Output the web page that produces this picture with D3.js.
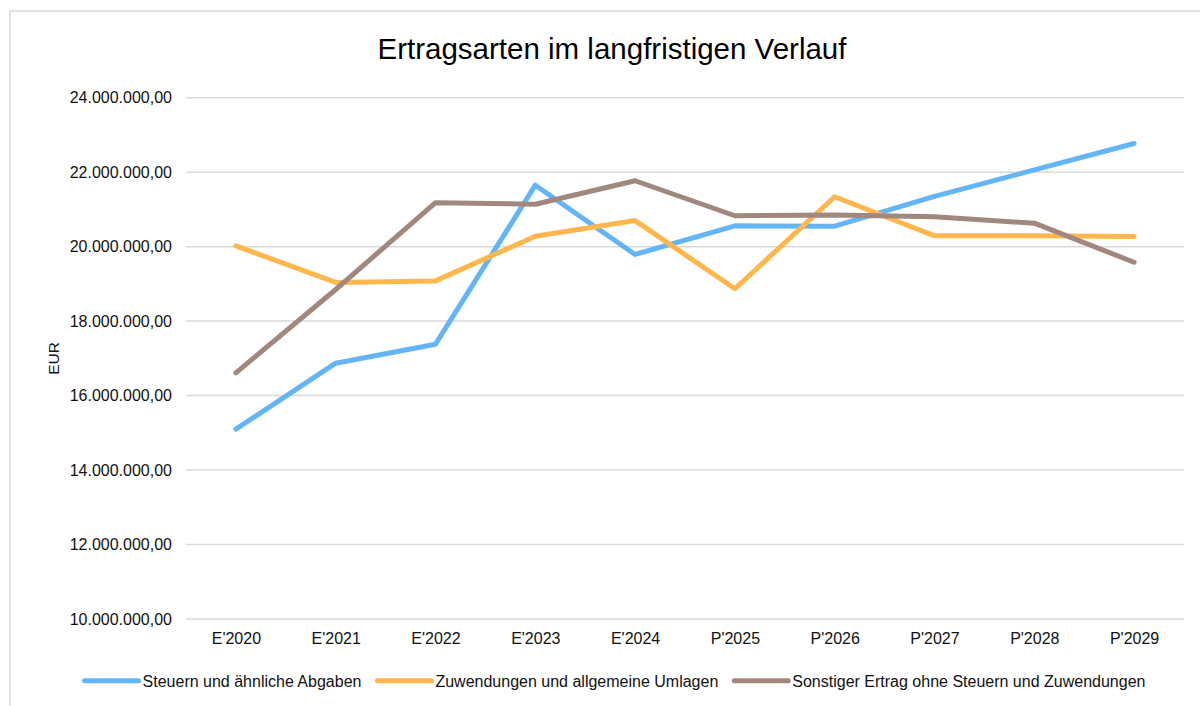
<!DOCTYPE html>
<html>
<head>
<meta charset="utf-8">
<script src="https://cdn.jsdelivr.net/npm/d3@7"></script>
<style>
  html, body { margin: 0; padding: 0; background: #fff; }
  svg { display: block; font-family: "Liberation Sans", Arial, sans-serif; }
</style>
</head>
<body>
<svg id="chart" width="1200" height="706"></svg>
<script>
const title = "Ertragsarten im langfristigen Verlauf";
const yAxisLabel = "EUR";
const categories = ["E'2020","E'2021","E'2022","E'2023","E'2024","P'2025","P'2026","P'2027","P'2028","P'2029"];
const seriesNames = [
  "Steuern und ähnliche Abgaben",
  "Zuwendungen und allgemeine Umlagen",
  "Sonstiger Ertrag ohne Steuern und Zuwendungen"
];
const steuern = [15100000,16870000,17380000,21650000,19790000,20560000,20550000,21350000,22060000,22770000];
const zuwendungen = [20020000,19040000,19080000,20280000,20700000,18870000,21340000,20290000,20290000,20270000];
const sonstiger = [16610000,18850000,21180000,21140000,21770000,20830000,20850000,20800000,20630000,19580000];
const yTicks = [10000000,12000000,14000000,16000000,18000000,20000000,22000000,24000000];
const colors = ["#64B5F6","#FFB74D","#A1887F"];

const allSeries = [steuern, zuwendungen, sonstiger];

const svg = d3.select("#chart");
const W = 1200, H = 706;
const plot = {left: 186, right: 1184, top: 97.7, bottom: 619};

// chart frame (only top/left visible in reference)
svg.append("path")
  .attr("d", `M10,${H+5} V11 H${W+5}`)
  .attr("fill", "none")
  .attr("stroke", "#d9d9d9")
  .attr("stroke-width", 1.5);

const x = d3.scalePoint().domain(categories).range([plot.left, plot.right]).padding(0.5);
const y = d3.scaleLinear().domain([10000000, 24000000]).range([plot.bottom, plot.top]);

const de = d3.formatLocale({decimal: ",", thousands: ".", grouping: [3], currency: ["", " €"]});
const fmt = de.format(",.2f");

// y axis with gridlines
const yAxis = d3.axisLeft(y).tickValues(yTicks).tickFormat(fmt).tickSize(0).tickPadding(14);
const gy = svg.append("g").attr("transform", `translate(${plot.left},0)`).call(yAxis);
gy.select(".domain").remove();
gy.selectAll("text").attr("font-size", 16).attr("fill", "#111")
  .attr("font-family", "'Liberation Sans', Arial, sans-serif");

svg.append("g").selectAll("line").data(yTicks).join("line")
  .attr("x1", plot.left).attr("x2", plot.right)
  .attr("y1", d => y(d)).attr("y2", d => y(d))
  .attr("stroke", "#d9d9d9").attr("stroke-width", 1.5);

// x axis
const xAxis = d3.axisBottom(x).tickSize(0).tickPadding(14);
const gx = svg.append("g").attr("transform", `translate(0,${plot.bottom})`).call(xAxis);
gx.select(".domain").remove();
gx.selectAll("text").attr("font-size", 16).attr("fill", "#111")
  .attr("font-family", "'Liberation Sans', Arial, sans-serif");

// lines
const line = d3.line().x((d, i) => x(categories[i])).y(d => y(d));
svg.append("g").selectAll("path").data(allSeries).join("path")
  .attr("d", d => line(d))
  .attr("fill", "none")
  .attr("stroke", (d, i) => colors[i])
  .attr("stroke-width", 5)
  .attr("stroke-linejoin", "round")
  .attr("stroke-linecap", "round");

// title
svg.append("text").attr("x", 612).attr("y", 59)
  .attr("text-anchor", "middle").attr("font-size", 29.5).attr("fill", "#000")
  .text(title);

// y label
svg.append("text")
  .attr("transform", `translate(59,358.5) rotate(-90)`)
  .attr("text-anchor", "middle").attr("font-size", 15.5).attr("fill", "#111")
  .text(yAxisLabel);

// legend
const lg = svg.append("g");
const items = lg.selectAll("g").data(seriesNames).join("g");
items.append("line").attr("x1", 0).attr("x2", 54).attr("y1", 0).attr("y2", 0)
  .attr("stroke", (d, i) => colors[i]).attr("stroke-width", 5).attr("stroke-linecap", "round");
items.append("text").attr("x", 58).attr("y", 6).attr("font-size", 16).attr("fill", "#111").text(d => d);
let cursor = 0;
const widths = [];
items.each(function() {
  const tw = d3.select(this).select("text").node().getComputedTextLength();
  widths.push(58 + tw);
});
const total = d3.sum(widths) + 16 * (widths.length - 1);
let start = 615 - total / 2;
items.attr("transform", (d, i) => {
  const tx = start + d3.sum(widths.slice(0, i)) + 16 * i;
  return `translate(${tx},680.7)`;
});
</script>
</body>
</html>
